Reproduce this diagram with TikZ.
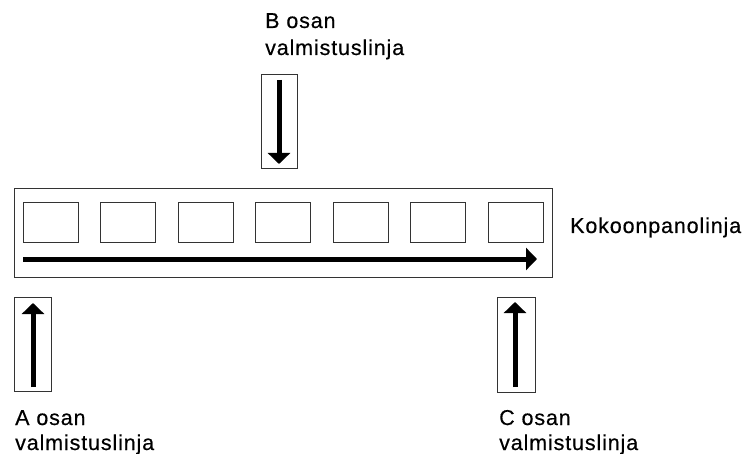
\documentclass[tikz,border=0pt]{standalone}
\usepackage{fontspec}
\setmainfont{Liberation Sans}[LetterSpace=4,FakeBold=0.4]
\usetikzlibrary{arrows.meta}
\begin{document}
\begin{tikzpicture}[x=1pt,y=-1pt,
  frame/.style={draw=black!80, line width=1pt, fill=none, inner sep=0pt, outer sep=0pt},
  slot/.style={frame, minimum width=55pt, minimum height=39pt},
  flow/.style={line width=5pt, -{Triangle[length=11pt,width=22pt]}},
  label/.style={anchor=base west, inner sep=0pt, font=\fontsize{21.5pt}{25pt}\selectfont}]
  \useasboundingbox (0,0) rectangle (746,454);

  % assembly line with its stations
  \node[frame, minimum width=538pt, minimum height=88pt] (line) at (283,233) {};
  \foreach \k in {0,...,6}
    \node[slot] (s\k) at ({50.5+77.5*\k},222.5) {};
  \coordinate (lineA) at (23,259);
  \coordinate (lineB) at (537,259);
  \draw[flow] (lineA) -- (lineB);
  \node[label] (kok) at (570,233) {Kokoonpanolinja};

  % B part feeder, above
  \node[frame, minimum width=36pt, minimum height=94pt] (bbox) at (279,122) {};
  \coordinate (bA) at (279,80);
  \coordinate (bB) at (279,164);
  \draw[flow] (bA) -- (bB);
  \node[label] (b1) at (265,28) {B osan};
  \node[label] (b2) at (265,55) {valmistuslinja};

  % A part feeder, bottom left
  \node[frame, minimum width=37pt, minimum height=94pt] (abox) at (32.5,344) {};
  \coordinate (aA) at (33,387);
  \coordinate (aB) at (33,303);
  \draw[flow] (aA) -- (aB);
  \node[label] (a1) at (15,425) {A osan};
  \node[label] (a2) at (15,450) {valmistuslinja};

  % C part feeder, bottom right
  \node[frame, minimum width=38pt, minimum height=95pt] (cbox) at (516,344.5) {};
  \coordinate (cA) at (515,387);
  \coordinate (cB) at (515,302);
  \draw[flow] (cA) -- (cB);
  \node[label] (c1) at (499,425) {C osan};
  \node[label] (c2) at (499,450) {valmistuslinja};
\end{tikzpicture}
\end{document}
